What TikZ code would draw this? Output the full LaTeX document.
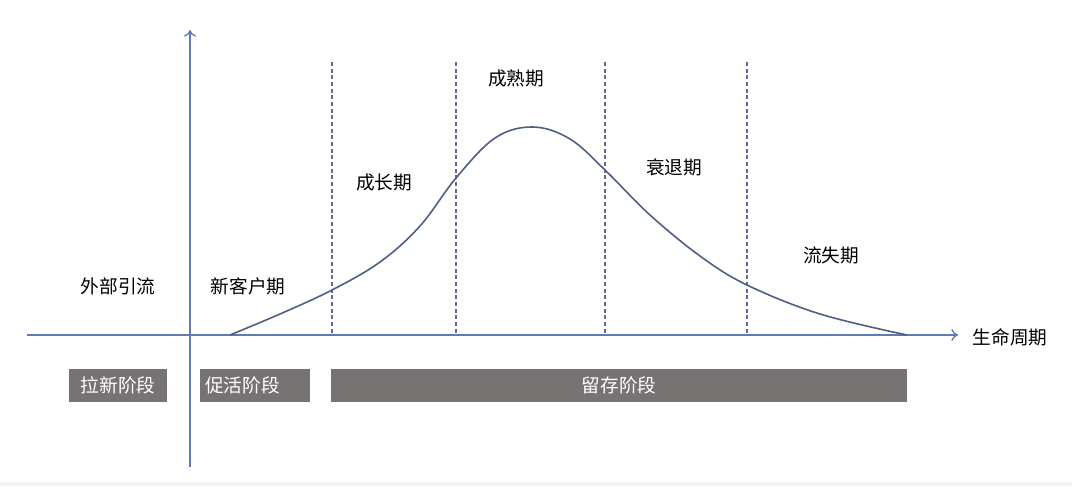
\documentclass[tikz,border=0pt]{standalone}
\usepackage{fontspec}
\setmainfont{Noto Sans CJK SC}
\usetikzlibrary{arrows.meta}
\definecolor{axisblue}{HTML}{5E7DAE}
\definecolor{curveblue}{HTML}{4D5F82}
\definecolor{boxgray}{HTML}{777372}
\definecolor{bandgray}{HTML}{F2F3F5}
\tikzset{
  stagelabel/.style={text=black, font=\fontsize{14}{16}\selectfont},
  phasebox/.style={fill=boxgray, text=white, font=\fontsize{14}{16}\selectfont, inner sep=0pt, anchor=north west},
  divider/.style={line width=0.8pt, dashed, dash pattern=on 3pt off 2pt, gray!80!blue},
}
\begin{document}
\begin{tikzpicture}[x=0.75pt, y=-0.75pt]
\useasboundingbox (0,0) rectangle (1072,486);
\fill [bandgray] (0,482) rectangle (1072,486);
% axes
\coordinate (xstart) at (27,335);
\coordinate (xend) at (958,335);
\coordinate (ystart) at (190,467);
\coordinate (yend) at (190,30);
\draw [line width=1pt, axisblue, -{To[length=5pt,width=9pt]}] (xstart) -- (xend);
\draw [line width=1pt, axisblue, -{To[length=5pt,width=9pt]}] (ystart) -- (yend);
% dividers
\foreach \dx/\dn in {332/a, 456/b, 605/c, 747/d} {
  \coordinate (top\dn) at (\dx,62);
  \coordinate (bot\dn) at (\dx,335);
  \draw [divider] (top\dn) -- (bot\dn);
}
% life-cycle curve
\draw [line width=1.2pt, curveblue] plot [smooth, tension=0.6] coordinates {
  (230,335) (280,314) (332,290) (380,262) (420,226) (456,178)
  (495,138) (533,127) (570,139) (605,170) (650,215) (700,256)
  (747,285) (820,314) (907,335)};
% stage labels
\node [stagelabel] (outer) at (118,286) {外部引流};
\node [stagelabel] (newuser) at (248,286) {新客户期};
\node [stagelabel] (growth) at (384,182) {成长期};
\node [stagelabel] (mature) at (516,78) {成熟期};
\node [stagelabel] (decline) at (674,167) {衰退期};
\node [stagelabel] (churn) at (831,255) {流失期};
\node [stagelabel, anchor=west] (cycle) at (968,337) {生命周期};
% phase boxes
\node [phasebox, minimum width=98*0.75pt, minimum height=33*0.75pt] (acquire) at (69,369) {拉新阶段};
\node [phasebox, minimum width=110*0.75pt, minimum height=33*0.75pt, text width=100*0.75pt, inner xsep=5*0.75pt] (activate) at (200,369) {促活阶段};
\node [phasebox, minimum width=576*0.75pt, minimum height=33*0.75pt] (retain) at (331,369) {留存阶段};
\end{tikzpicture}
\end{document}
